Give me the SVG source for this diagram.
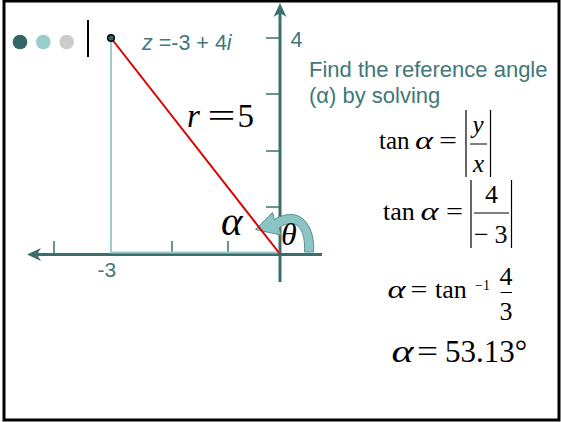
<svg xmlns="http://www.w3.org/2000/svg" width="561" height="422" viewBox="0 0 561 422">
<style>
.axis{stroke:#3c6e6e;stroke-width:3;fill:none}
.tick{stroke:#3c6e6e;stroke-width:1.5}
.light{stroke:#9acccc;stroke-width:2;fill:none}
.teal{font-family:"Liberation Sans",Arial,sans-serif;fill:#417878}
.math{font-family:"Liberation Serif","Times New Roman",serif;fill:#000}
.it{font-style:italic}
.bar{stroke:#000;stroke-width:1.2}
</style>
<defs>
<marker id="axisHead" markerUnits="userSpaceOnUse" viewBox="-16 -10 20 20" markerWidth="20" markerHeight="20" refX="-10" refY="0" orient="auto" overflow="visible">
<path d="M0,0 L-14,-6.5 L-10,0 L-14,6.5 Z" fill="#3c6e6e"/>
</marker>
</defs>
<rect x="4" y="1" width="555" height="419" fill="#fff" stroke="#000" stroke-width="3"/>
<g id="bullets">
<circle cx="20" cy="42" r="7.3" fill="#336666"/>
<circle cx="43.3" cy="42" r="7.3" fill="#99cccc"/>
<circle cx="66.7" cy="42" r="7.3" fill="#cccccc"/>
<line x1="88" y1="20" x2="88" y2="57" stroke="#000" stroke-width="2"/>
</g>
<g id="axes">
<line class="axis" x1="280" y1="282" x2="280" y2="13" marker-end="url(#axisHead)"/>
<line class="axis" x1="322" y1="254.5" x2="37" y2="254.5" marker-end="url(#axisHead)"/>
<line class="tick" x1="266" y1="38" x2="280" y2="38"/>
<line class="tick" x1="266" y1="94" x2="280" y2="94"/>
<line class="tick" x1="266" y1="151" x2="280" y2="151"/>
<line class="tick" x1="266" y1="207" x2="280" y2="207"/>
<line class="tick" x1="54" y1="241" x2="54" y2="254"/>
<line class="tick" x1="172" y1="241" x2="172" y2="254"/>
<line class="tick" x1="228" y1="241" x2="228" y2="254"/>
<text class="teal" x="290.5" y="46.5" font-size="21.5">4</text>
<text class="teal" x="97.5" y="276.5" font-size="21">-3</text>
</g>
<g id="triangle">
<polyline class="light" points="111,38 111,252.5 280,252.5"/>
</g>
<g id="theta-arrow">
<path d="M313.5,252 C315,231 305.5,214.5 291,214.5 C284,214.5 278,217 274.5,219.5 L272.5,212.5 L255.5,229.5 L281,235 L279,228 C282,225.5 286,223.5 291,223.5 C299,223.5 305.5,232 304.5,252 Z" fill="#8cc3c3" stroke="#5a9090" stroke-width="1"/>
</g>
<g id="radius">
<line x1="111" y1="38" x2="280" y2="254" stroke="#dd0000" stroke-width="2"/>
<circle cx="111" cy="38" r="3.3" fill="#336666" stroke="#000" stroke-width="1.5"/>
</g>
<g id="labels">
<text class="teal" x="142" y="49.5" font-size="21.5"><tspan font-style="italic">z</tspan> =-3 + 4<tspan font-style="italic">i</tspan></text>
<text class="math it" x="187" y="127" font-size="33">r</text>
<text class="math" x="207.5" y="127" font-size="33" textLength="28" lengthAdjust="spacingAndGlyphs">=</text>
<text class="math" x="237.5" y="127" font-size="33">5</text>
<text class="math it" x="221" y="235" font-size="41">α</text>
<text class="math it" x="281" y="245" font-size="32">θ</text>
</g>
<g id="explanation">
<text class="teal" x="309" y="77" font-size="22">Find the reference angle</text>
<text class="teal" x="309" y="103" font-size="22">(α) by solving</text>
</g>
<g id="eq1">
<text class="math" x="379" y="149" font-size="25">tan</text>
<text class="math it" x="415" y="149" font-size="25" textLength="18" lengthAdjust="spacingAndGlyphs">α</text>
<text class="math" x="439" y="149" font-size="25" textLength="18" lengthAdjust="spacingAndGlyphs">=</text>
<line class="bar" x1="466" y1="110" x2="466" y2="177"/>
<line class="bar" x1="490.5" y1="110" x2="490.5" y2="177"/>
<text class="math it" x="478" y="133" font-size="25" text-anchor="middle">y</text>
<line x1="470" y1="144" x2="487" y2="144" stroke="#000" stroke-width="1"/>
<text class="math it" x="478.5" y="172" font-size="25" text-anchor="middle">x</text>
</g>
<g id="eq2">
<text class="math" x="383" y="220" font-size="26">tan</text>
<text class="math it" x="420.5" y="220" font-size="26" textLength="18" lengthAdjust="spacingAndGlyphs">α</text>
<text class="math" x="446" y="220" font-size="26" textLength="17" lengthAdjust="spacingAndGlyphs">=</text>
<line class="bar" x1="471" y1="180" x2="471" y2="248"/>
<line class="bar" x1="511.5" y1="180" x2="511.5" y2="248"/>
<text class="math" x="491.5" y="203" font-size="26" text-anchor="middle">4</text>
<line x1="474" y1="213" x2="509" y2="213" stroke="#000" stroke-width="1"/>
<text class="math" x="474" y="242.5" font-size="26">−</text>
<text class="math" x="494.5" y="242.5" font-size="26">3</text>
</g>
<g id="eq3">
<text class="math it" x="387.5" y="298" font-size="26" textLength="18" lengthAdjust="spacingAndGlyphs">α</text>
<text class="math" x="410.5" y="298" font-size="26" textLength="17" lengthAdjust="spacingAndGlyphs">=</text>
<text class="math" x="435" y="298" font-size="26">tan</text>
<text class="math" x="475" y="290" font-size="14">−1</text>
<text class="math" x="506" y="285" font-size="26" text-anchor="middle">4</text>
<line x1="500.5" y1="292.5" x2="512" y2="292.5" stroke="#000" stroke-width="1"/>
<text class="math" x="506" y="320" font-size="26" text-anchor="middle">3</text>
</g>
<g id="eq4">
<text class="math it" x="391.5" y="362" font-size="31" textLength="22" lengthAdjust="spacingAndGlyphs">α</text>
<text class="math" x="417" y="362" font-size="31" textLength="21" lengthAdjust="spacingAndGlyphs">=</text>
<text class="math" x="445" y="362" font-size="31">53.13°</text>
</g>
</svg>
